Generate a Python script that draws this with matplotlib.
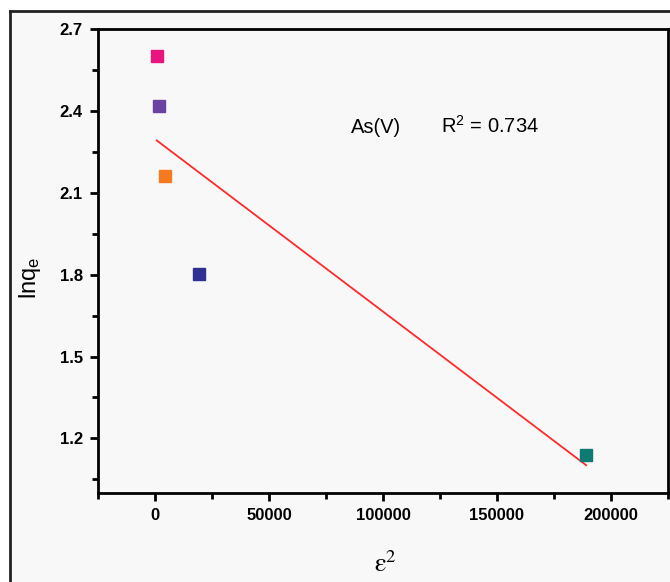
import numpy as np
import matplotlib
matplotlib.use("Agg")
import matplotlib.pyplot as plt
from matplotlib.lines import Line2D
from matplotlib.patches import Rectangle

# Data
eps2 = [740, 1750, 4500, 19250, 189100]
lnqe = [2.60, 2.419, 2.162, 1.801, 1.140]
colors = ["#e8157f", "#6a42a0", "#f47a20", "#2e3192", "#0e7b72"]
label_text = "As(V)"
r2_text = r"R$^{\mathregular{2}}$ = 0.734"
xticks = [0, 50000, 100000, 150000, 200000]
yticks = [1.2, 1.5, 1.8, 2.1, 2.4, 2.7]

plt.rcParams["font.family"] = ["Liberation Sans", "DejaVu Sans"]
plt.rcParams["mathtext.fontset"] = "custom"
plt.rcParams["mathtext.rm"] = "Liberation Sans"
plt.rcParams["mathtext.it"] = "Liberation Sans"

W, H = 670, 582
fig = plt.figure(figsize=(W / 100, H / 100), dpi=100)
fig.patch.set_facecolor("white")

bg = "#f8f8f8"
fig.add_artist(Rectangle((10 / W, 0), 1, 1 - 11 / H, transform=fig.transFigure,
                         facecolor=bg, edgecolor="none", zorder=-10))
fig.add_artist(Line2D([10 / W, 10 / W], [0, 1 - 11 / H], transform=fig.transFigure,
                      color="#222222", lw=2))
fig.add_artist(Line2D([10 / W, 1], [1 - 11 / H, 1 - 11 / H], transform=fig.transFigure,
                      color="#222222", lw=2))

ax = fig.add_axes([98 / W, 1 - 493 / H, (668 - 98) / W, (493 - 29) / H])
ax.set_facecolor(bg)

for xv, yv, c in zip(eps2, lnqe, colors):
    ax.plot(xv, yv, "s", color=c, markersize=8, markeredgecolor=c, zorder=3)

slope, intercept = np.polyfit(eps2, lnqe, 1)
xf = np.array([min(eps2), max(eps2)])
ax.plot(xf, slope * xf + intercept, color="#ff2a2a", lw=1.3, zorder=2)

ax.set_xlim(-25000, 225000)
ax.set_ylim(1.0, 2.7)
ax.set_xticks(xticks)
ax.set_xticks(np.arange(-25000, 225001, 25000), minor=True)
ax.set_yticks(yticks)
ax.set_yticks(np.arange(1.05, 2.7, 0.3), minor=True)
ax.set_yticklabels([f"{v:.1f}" for v in yticks])
ax.set_xticklabels([str(v) for v in xticks])

for s in ax.spines.values():
    s.set_linewidth(2)
    s.set_color("black")
ax.tick_params(which="both", direction="out", top=False, right=False, width=2)
ax.tick_params(which="major", length=6, labelsize=12, pad=5)
ax.tick_params(which="minor", length=4)
for lab in ax.get_xticklabels() + ax.get_yticklabels():
    lab.set_fontweight("bold")

ax.text(86000, 2.319, label_text, fontsize=14.5, va="baseline", ha="left")
ax.text(125500, 2.319, r2_text, fontsize=14.5, va="baseline", ha="left")

ax.set_ylabel(r"$\mathregular{lnq_e}$", fontsize=17)
ax.yaxis.set_label_coords(-0.097, 0.463)
ax.set_xlabel(r"$\mathrm{\varepsilon}^{\mathrm{2}}$", fontsize=19, math_fontfamily="stix")
ax.xaxis.set_label_coords(0.505, -0.125)

fig.savefig("out.png", dpi=100, facecolor="white")
